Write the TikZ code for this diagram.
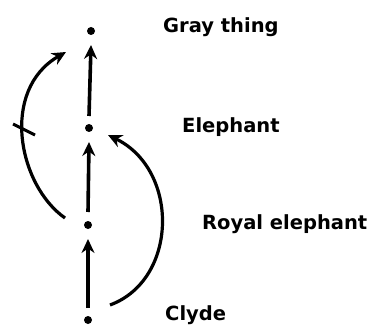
\documentclass[tikz,border=0pt]{standalone}
\usepackage{fontspec}
\setmainfont{DejaVu Sans}
\usetikzlibrary{arrows.meta}
\begin{document}
\begin{tikzpicture}[x=1pt,y=-1pt,
  dot/.style={circle,fill=black,inner sep=0pt,minimum size=8pt},
  arr/.style={line width=3.6pt,-{Stealth[length=14pt,width=13pt]}},
  curve/.style={line width=3.2pt,-{Stealth[length=14pt,width=13pt]}},
  lbl/.style={anchor=base west,font=\fontsize{19.5}{22}\selectfont\bfseries,inner sep=0pt}]
\useasboundingbox (0,0) rectangle (374,331);
\node[dot] (g) at (91,31) {};
\node[dot] (e) at (89,128) {};
\node[dot] (r) at (88,225) {};
\node[dot] (c) at (88,320) {};
\node[lbl] (lg) at (163,33) {Gray thing};
\node[lbl] (le) at (182,132) {Elephant};
\node[lbl] (lr) at (202,229) {Royal elephant};
\node[lbl] (lc) at (165,320) {Clyde};
\draw[arr] (e) ++(0,-12) -- ([yshift=-14]g.center);
\draw[arr] (r) ++(0,-13) -- ([yshift=-14]e.center);
\draw[arr] (c) ++(0,-12) -- ([yshift=-14]r.center);
\draw[curve] (r) ++(-23,-7) .. controls (18,185) and (0,90) .. ([shift={(-25,21)}]g.center);
\draw[curve] (c) ++(22,-15) .. controls (178,280) and (180,170) .. ([shift={(19,7)}]e.center);
\coordinate (t1) at (13,124);
\coordinate (t2) at (35,135);
\draw[line width=3pt] (t1) -- (t2);
\end{tikzpicture}
\end{document}
